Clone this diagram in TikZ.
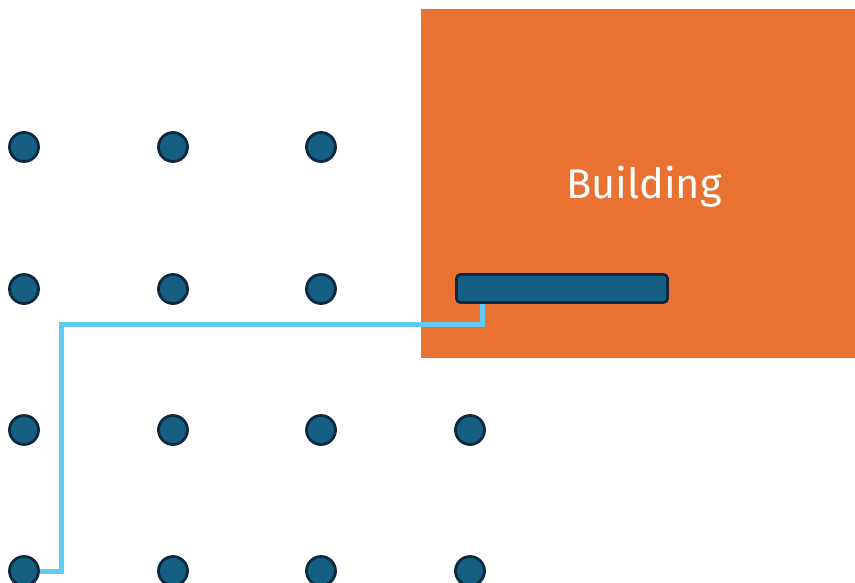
\documentclass[tikz,border=0pt]{standalone}
\usepackage{fontspec}
\setmainfont{Fira Sans}
\usetikzlibrary{positioning,calc}
\definecolor{buildorange}{HTML}{E97132}
\definecolor{pegblue}{HTML}{156082}
\definecolor{pegdark}{HTML}{0E2841}
\definecolor{cableblue}{HTML}{61CBF3}
\tikzset{
  peg/.style={circle, fill=pegblue, draw=pegdark, line width=2.8pt, minimum size=29pt, inner sep=0pt},
  slab/.style={fill=pegblue, draw=pegdark, line width=2.8pt, rounded corners=4pt, minimum width=211pt, minimum height=28pt, inner sep=0pt},
  cable/.style={cableblue, line width=5pt},
  housebox/.style={fill=buildorange}
}

\begin{document}
\begin{tikzpicture}[x=1pt,y=-1pt]
  \useasboundingbox (0,0) rectangle (855,582);
  % building
  \fill[housebox] (421,9) rectangle (855,358);
  \node[text=white, font=\fontsize{41.5}{48}\selectfont] (bldg) at (644,187) {Building};
  % grid of pegs
  \foreach \c/\xx in {1/24,2/173,3/321}{
    \foreach \r/\yy in {1/147,2/289}{
      \node[peg] (p\r\c) at (\xx,\yy) {};
    }
  }
  \foreach \c/\xx in {1/24,2/173,3/321,4/470}{
    \foreach \r/\yy in {3/430,4/571}{
      \node[peg] (p\r\c) at (\xx,\yy) {};
    }
  }
  % slab inside the building
  \node[slab] (bar) at (562,288.5) {};
  % cable
  \coordinate (c0) at ($(bar.south west)+(27,0)$);
  \coordinate (c1) at ($(c0)+(0,21)$);
  \coordinate (c2) at (61,0);
  \draw[cable] (c0) -- (c1) -- (c1 -| c2) -- (c2 |- p41) -- (p41.east);
\end{tikzpicture}
\end{document}
